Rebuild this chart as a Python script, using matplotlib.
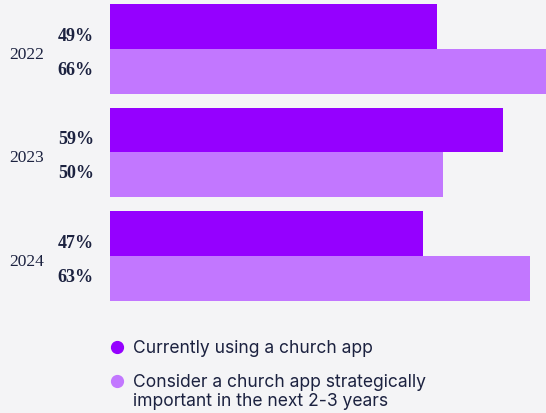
import matplotlib.pyplot as plt
from matplotlib.lines import Line2D
import numpy as np

# data
years = ['2022', '2023', '2024']
using_app = [49, 59, 47]
strategic = [66, 50, 63]
series_names = ['Currently using a church app',
                'Consider a church app strategically\nimportant in the next 2-3 years']

dark = '#9500ff'
light = '#c277ff'
text_col = '#1c2240'
bg = '#f4f4f6'

W, H = 546, 413
fig = plt.figure(figsize=(W / 100, H / 100), dpi=100, facecolor=bg)
# axes from x=110px to right edge, y=4px to 301px
ax = fig.add_axes([110 / W, 1 - 301 / H, 1 - 110 / W, (301 - 4) / H])
ax.set_facecolor(bg)

y = np.arange(len(years))
h = 0.433
ax.barh(y - h / 2, using_app, height=h, color=dark, label=series_names[0])
ax.barh(y + h / 2, strategic, height=h, color=light, label=series_names[1])

ax.set_xlim(0, 65.4)
ax.set_ylim(2 + h, -h)
ax.axis('off')

serif = 'Liberation Serif'
for i, yr in enumerate(years):
    ax.annotate(yr, xy=(0, i), xytext=(-83, -10), textcoords='offset pixels',
                ha='center', va='baseline', fontsize=12.5, family=serif,
                color=text_col)
    ax.annotate(f'{using_app[i]}%', xy=(0, i), xytext=(-16, 8),
                textcoords='offset pixels', ha='right', va='baseline',
                fontsize=13, family=serif, fontweight='bold', color=text_col)
    ax.annotate(f'{strategic[i]}%', xy=(0, i), xytext=(-16, -26),
                textcoords='offset pixels', ha='right', va='baseline',
                fontsize=13, family=serif, fontweight='bold', color=text_col)

# legend drawn by hand so the second marker sits on the first text line
legend_rows = [347, 381]  # px from top
for name, col, ypx in zip(series_names, [dark, light], legend_rows):
    yf = 1 - ypx / H
    fig.add_artist(Line2D([117 / W], [yf], marker='o', markersize=8.5,
                          color=col, linestyle='none'))
    fig.text(133 / W, yf + 7 / H, name, ha='left', va='top', fontsize=12.6,
             family='Inter', color=text_col, linespacing=1.18)

fig.savefig('out.png', dpi=100, facecolor=bg)
